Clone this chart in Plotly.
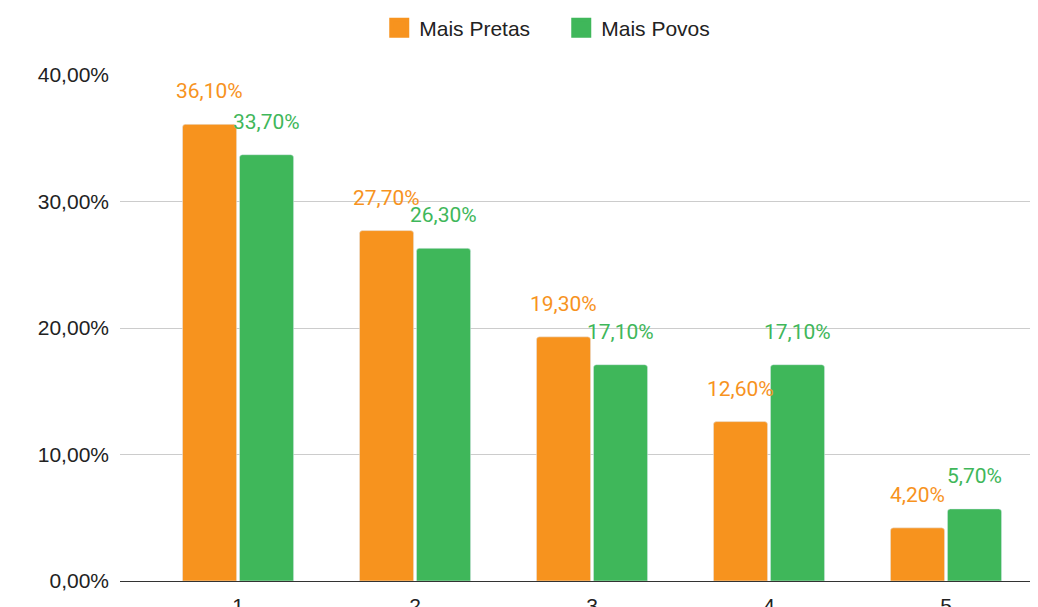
import plotly.graph_objects as go

categories = ["1", "2", "3", "4", "5"]
mais_pretas = [0.361, 0.277, 0.193, 0.126, 0.042]
mais_povos = [0.337, 0.263, 0.171, 0.171, 0.057]
series_names = ["Mais Pretas", "Mais Povos"]
y_ticks = [0, 0.1, 0.2, 0.3, 0.4]

ORANGE = "#F7931E"
GREEN = "#3FB75A"

xpos = list(range(len(categories)))


def pct(v):
    return f"{v*100:.2f}%".replace(".", ",")


fig = go.Figure()
for name, vals, col in [(series_names[0], mais_pretas, ORANGE), (series_names[1], mais_povos, GREEN)]:
    fig.add_trace(go.Bar(x=xpos, y=vals, name=name, marker_color=col,
                         showlegend=False, hoverinfo="skip"))
    fig.add_trace(go.Scatter(x=[None], y=[None], mode="markers", name=name,
                             marker=dict(symbol="square", size=16, color=col,
                                         line=dict(color=col, width=4))))

annotations = []
for vals, col, shift in [(mais_pretas, ORANGE, -28.5), (mais_povos, GREEN, 28.5)]:
    for xp, v in zip(xpos, vals):
        annotations.append(dict(x=xp, y=v, xref="x", yref="y", text=pct(v), showarrow=False,
                                xshift=shift, yshift=33, yanchor="middle",
                                font=dict(family="Roboto", size=21, color=col)))

fig.update_layout(
    width=1038, height=607,
    margin=dict(l=112, r=0, t=67, b=34),
    paper_bgcolor="white", plot_bgcolor="white",
    barmode="group", bargap=0.356, bargroupgap=0.05, barcornerradius=3,
    separators=",.",
    font=dict(family="Liberation Sans, Arial", size=21, color="#222"),
    legend=dict(orientation="h", xref="container", yref="container",
                x=0.533, xanchor="center", y=0.967, yanchor="middle",
                font=dict(size=21, color="#222"), itemsizing="trace",
                entrywidth=137, entrywidthmode="pixels"),
    annotations=annotations,
)
fig.update_xaxes(range=[-0.667, 4.565], tickvals=xpos, ticktext=categories, showgrid=False,
                 zeroline=False, showline=True, linecolor="#333", linewidth=1,
                 tickfont=dict(size=21, color="#222"), ticks="", ticklabelstandoff=6,
                 automargin=False)
fig.update_yaxes(range=[0, 0.4], tickvals=y_ticks, tickformat=".2%",
                 showgrid=True, gridcolor="#cccccc", gridwidth=1, zeroline=False,
                 showline=False, ticks="", ticklabelstandoff=10, automargin=False,
                 tickfont=dict(size=21, color="#222"))

fig.write_html("out.html")
